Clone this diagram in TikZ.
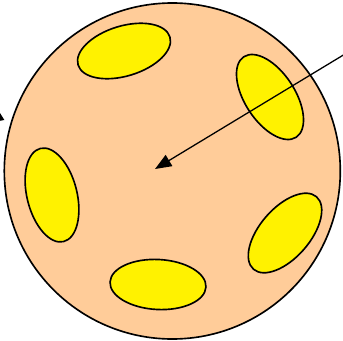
\documentclass[tikz,border=0pt]{standalone}
\usepackage{tikz}
\usetikzlibrary{arrows.meta, shapes.geometric}

\definecolor{peach}{HTML}{FFCC99}

\begin{document}
\begin{tikzpicture}[x=0.03cm, y=-0.03cm, >={Triangle[length=14pt, width=11pt]},
  spot/.style={ellipse, draw, line width=1.4pt, fill=yellow, inner sep=0pt,
    minimum width=2.88cm, minimum height=1.5cm}]
  \useasboundingbox (0,0) rectangle (343,340);
  % Ball
  \draw[line width=1.4pt, fill=peach] (172.3,171) circle[radius=168];
  % Spots
  \node[spot, rotate=17]  (spotA) at (124,51)    {};
  \node[spot, rotate=-57] (spotB) at (270,97)    {};
  \node[spot, rotate=104] (spotC) at (52,195)    {};
  \node[spot, rotate=49]  (spotD) at (285,233)   {};
  \node[spot, rotate=-3]  (spotE) at (158,284.5) {};
  % Arrows
  \coordinate (far)  at (350,51);
  \coordinate (hit)  at (155,169);
  \draw[->, line width=1.1pt] (far) -- (hit);
  \coordinate (tailL) at (-2,122);
  \coordinate (tipL)  at (-5,105);
  \draw[->, line width=1.1pt] (tailL) -- (tipL);
\end{tikzpicture}
\end{document}
